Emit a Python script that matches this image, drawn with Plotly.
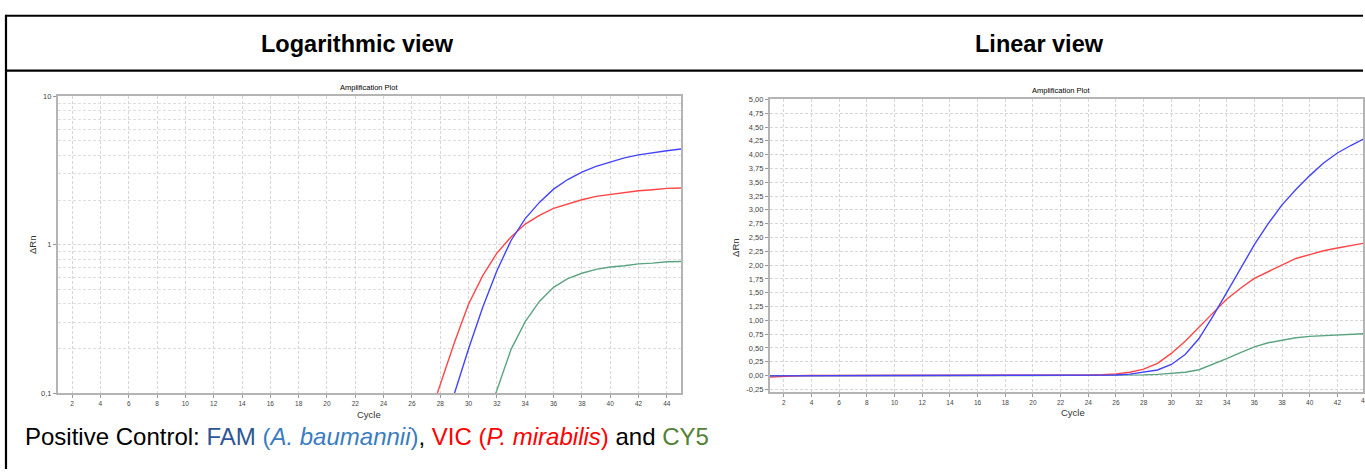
import plotly.graph_objects as go

W, H = 1365, 474

cycles = list(range(1, 46))

fam = [-0.006, -0.004, -0.002, 0.0, 0.0, 0.0, 0.0, 0.0, 0.0, 0.0,
       0.0, 0.0, 0.0, 0.0, 0.0, 0.0, 0.0, 0.0, 0.0, 0.0,
       0.0, 0.001, 0.001, 0.002, 0.005, 0.010, 0.025, 0.058, 0.10, 0.20,
       0.38, 0.67, 1.07, 1.50, 1.93, 2.37, 2.75, 3.09, 3.37, 3.62,
       3.85, 4.03, 4.17, 4.30, 4.41]

vic = [-0.030, -0.015, -0.004, 0.0, 0.0, 0.0, 0.0, 0.0, 0.0, 0.0,
       0.0, 0.0, 0.0, 0.0, 0.0, 0.001, 0.001, 0.001, 0.002, 0.002,
       0.002, 0.003, 0.004, 0.007, 0.015, 0.030, 0.060, 0.115, 0.22, 0.40,
       0.62, 0.88, 1.13, 1.38, 1.58, 1.76, 1.88, 2.01, 2.12, 2.19,
       2.26, 2.31, 2.35, 2.40, 2.41]

cy5 = [-0.004, -0.003, -0.002, 0.0, 0.0, 0.0, 0.0, 0.0, 0.0, 0.0,
       0.0, 0.0, 0.0, 0.0, 0.0, 0.0, 0.0, 0.0, 0.0, 0.0,
       0.0, 0.0, 0.0, 0.001, 0.002, 0.004, 0.007, 0.012, 0.020, 0.035,
       0.060, 0.105, 0.198, 0.304, 0.416, 0.518, 0.593, 0.644, 0.684, 0.709,
       0.723, 0.745, 0.753, 0.769, 0.772]

x_ticks = list(range(2, 46, 2))
log_ticks = [0.1, 1, 10]
log_ticktext = ["0,1", "1", "10"]
log_minor = [0.2, 0.3, 0.4, 0.5, 0.6, 0.7, 0.8, 0.9, 2, 3, 4, 5, 6, 7, 8, 9]
lin_ticks = [i * 0.25 for i in range(-1, 21)]
lin_ticktext = [f"{v:.2f}".replace(".", ",") for v in lin_ticks]

series = [("CY5", cy5, "#5aa57f"), ("VIC", vic, "#ff4545"), ("FAM", fam, "#4444ff")]

FONT = "Liberation Sans, Arial, sans-serif"

def px(x):
    return x / W

def py(y):
    return 1 - y / H

fig = go.Figure()
for name, vals, col in series:
    fig.add_trace(go.Scatter(x=cycles, y=vals, mode="lines", name=name,
                             line=dict(color=col, width=1.4), xaxis="x", yaxis="y",
                             showlegend=False))
for name, vals, col in series:
    fig.add_trace(go.Scatter(x=cycles, y=vals, mode="lines", name=name,
                             line=dict(color=col, width=1.4), xaxis="x2", yaxis="y2",
                             showlegend=False))

grid = dict(showgrid=True, gridcolor="#d6d6d6", gridwidth=1, griddash="3px,2px")
axline = dict(showline=True, linecolor="#b4b4b4", linewidth=2, mirror=True,
              ticks="outside", ticklen=3, tickcolor="#999999", zeroline=False)
tickf = dict(family=FONT, size=6.5, color="#444444")

fig.update_layout(
    width=W, height=H, margin=dict(l=0, r=0, t=0, b=0),
    paper_bgcolor="white", plot_bgcolor="white", showlegend=False,
    xaxis=dict(domain=[px(58), px(682)], range=[1, 45], tickvals=x_ticks,
               tickfont=tickf, anchor="y", **grid, **axline),
    yaxis=dict(domain=[py(397), py(94)], type="log", range=[-1, 1],
               tickvals=log_ticks, ticktext=log_ticktext,
               tickfont=dict(family=FONT, size=7.5, color="#444444"),
               minor=dict(tickvals=log_minor, showgrid=True, gridcolor="#dedede",
                          griddash="3px,2px", ticks=""),
               anchor="x", **grid, **axline),
    xaxis2=dict(domain=[px(771.1), 1.0], range=[1, 43.85], tickvals=x_ticks,
                tickfont=tickf, anchor="y2", **grid, **axline),
    yaxis2=dict(domain=[py(395.7), py(97)], range=[-0.302, 5.005],
                tickvals=lin_ticks, ticktext=lin_ticktext,
                tickfont=dict(family=FONT, size=7.5, color="#444444"),
                anchor="x2", **grid, **axline),
)

ann = []
def text(x, y, t, size, color="black", angle=0, xanchor="center"):
    ann.append(dict(x=px(x), y=py(y), xref="paper", yref="paper", text=t,
                    showarrow=False, xanchor=xanchor, yanchor="middle",
                    textangle=angle,
                    font=dict(family=FONT, size=size, color=color)))

text(358, 41, "<b>Logarithmic view</b>", 23.5)
text(1041, 41, "<b>Linear view</b>", 23.5)
text(370, 85, "Amplification Plot", 7.5)
text(1063, 88, "Amplification Plot", 7.5)
text(370, 418, "Cycle", 9.5, "#333333")
text(1075, 416, "Cycle", 9.5, "#333333")
text(32.7, 245, "ΔRn", 9.5, "#333333", angle=-90)
text(736.7, 248, "ΔRn", 9.5, "#333333", angle=-90)
text(1367, 404, "44", 6.5, "#444444")
text(23, 441,
     'Positive Control: <span style="color:#2F5597">FAM</span> '
     '<span style="color:#3A7DC0">(<i>A. baumannii</i>)</span>, '
     '<span style="color:#FF0000">VIC (<i>P. mirabilis</i>)</span> and '
     '<span style="color:#548235">CY5</span>', 24, xanchor="left")
fig.update_layout(annotations=ann)

lines = [(6, 12, W, 12), (6, 68, W, 68), (6, 11, 6, H)]
fig.update_layout(shapes=[dict(type="line", xref="paper", yref="paper",
                               x0=px(a), y0=py(b), x1=px(c), y1=py(d),
                               line=dict(color="black", width=2.2))
                          for a, b, c, d in lines])

fig.write_html("out.html",
               config={"displayModeBar": False},
               post_script="document.body.style.margin='0';"
                           "document.body.style.overflow='hidden';")
